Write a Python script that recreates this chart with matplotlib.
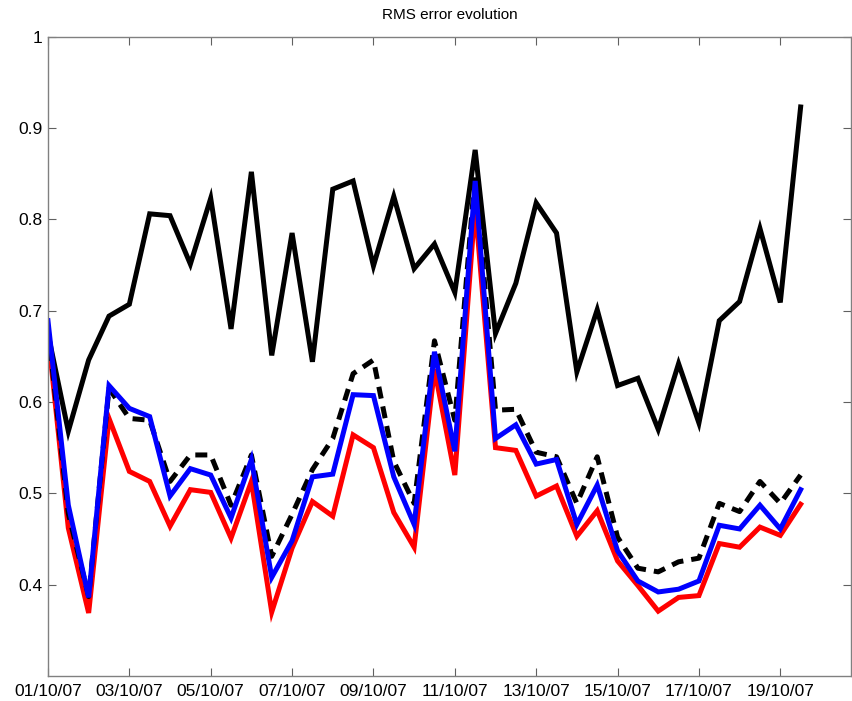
import numpy as np
import pandas as pd
import matplotlib
matplotlib.use('Agg')
import matplotlib.pyplot as plt
import matplotlib.dates as mdates

# half-day samples starting 01/10/07
dates = pd.date_range('2007-10-01', periods=38, freq='12h')

rmsBlack = [0.675, 0.568, 0.646, 0.694, 0.707, 0.806, 0.804, 0.751, 0.823, 0.680,
            0.852, 0.651, 0.785, 0.644, 0.833, 0.842, 0.749, 0.825, 0.746, 0.773,
            0.720, 0.876, 0.675, 0.730, 0.818, 0.785, 0.633, 0.701, 0.618, 0.626,
            0.570, 0.642, 0.577, 0.689, 0.710, 0.790, 0.709, 0.923]

rmsDashed = [0.680, 0.478, 0.387, 0.615, 0.582, 0.580, 0.513, 0.542, 0.542, 0.487,
             0.542, 0.431, 0.477, 0.526, 0.560, 0.631, 0.646, 0.535, 0.489, 0.667,
             0.580, 0.850, 0.591, 0.592, 0.545, 0.540, 0.489, 0.540, 0.452, 0.418,
             0.414, 0.425, 0.429, 0.489, 0.480, 0.513, 0.489, 0.520]

rmsBlue = [0.689, 0.487, 0.386, 0.618, 0.593, 0.584, 0.497, 0.527, 0.520, 0.473,
           0.537, 0.408, 0.448, 0.518, 0.521, 0.608, 0.607, 0.518, 0.466, 0.655,
           0.546, 0.842, 0.560, 0.575, 0.532, 0.537, 0.466, 0.509, 0.437, 0.404,
           0.392, 0.395, 0.404, 0.465, 0.461, 0.487, 0.461, 0.504]

rmsRed = [0.675, 0.462, 0.369, 0.582, 0.524, 0.513, 0.464, 0.504, 0.501, 0.451,
          0.513, 0.370, 0.440, 0.491, 0.475, 0.564, 0.550, 0.479, 0.441, 0.636,
          0.520, 0.815, 0.550, 0.547, 0.497, 0.508, 0.453, 0.481, 0.426, 0.399,
          0.371, 0.386, 0.388, 0.445, 0.441, 0.463, 0.454, 0.488]

yticks = [0.4, 0.5, 0.6, 0.7, 0.8, 0.9, 1]
yticklabels = ['0.4', '0.5', '0.6', '0.7', '0.8', '0.9', '1']

plt.rcParams['font.family'] = ['Liberation Sans', 'DejaVu Sans']

fig = plt.figure(figsize=(8.52, 7.01), dpi=100)
ax = fig.add_axes([0.0563, 0.0357, 0.9431, 0.912])

lw = 3.6
ax.plot(dates, rmsBlack, color='black', lw=lw, solid_joinstyle='miter')
ax.plot(dates, rmsRed, color='red', lw=lw, solid_joinstyle='miter')
ax.plot(dates, rmsDashed, color='black', lw=lw, dashes=(2.4, 1.6))
ax.plot(dates, rmsBlue, color='blue', lw=lw, solid_joinstyle='miter')

ax.set_ylim(0.3, 1.0)
ax.set_yticks(yticks)
ax.set_yticklabels(yticklabels)
ax.set_xlim(dates[0], dates[0] + pd.Timedelta(days=19.75))
ax.xaxis.set_major_locator(mdates.DayLocator(interval=2))
ax.xaxis.set_major_formatter(mdates.DateFormatter('%d/%m/%y'))

for s in ax.spines.values():
    s.set_color('#808080')
    s.set_linewidth(1.0)
ax.tick_params(direction='in', length=6, width=0.8, color='#606060',
               top=True, right=True, labelsize=12.5, pad=6)
ax.tick_params(axis='y', pad=4)

ax.set_title('RMS error evolution', fontsize=11, pad=13)

fig.savefig('out.png', dpi=100)
